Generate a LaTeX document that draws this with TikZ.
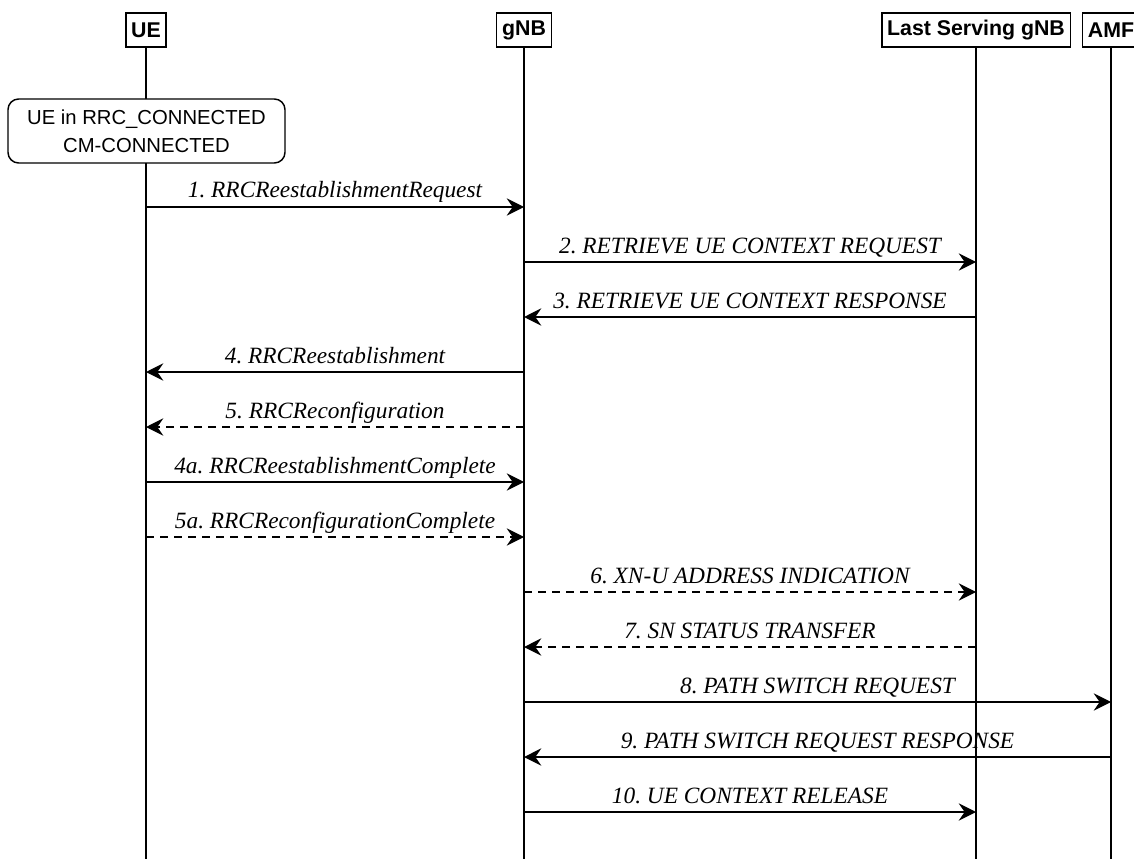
\documentclass[tikz,border=0pt]{standalone}
\usepackage{fontspec}
\setmainfont{Liberation Serif}
\setsansfont{Liberation Sans}
\usetikzlibrary{arrows.meta}
\frenchspacing

\tikzset{
    entity/.style={draw, line width=1.1pt, fill=white, inner xsep=4pt, minimum height=25.5pt,
        font=\fontsize{16pt}{19pt}\selectfont\sffamily\bfseries},
    lifeline/.style={line width=0.9pt},
    msg/.style={line width=1.1pt, -{Stealth[length=13pt,width=13pt,inset=4.5pt]}},
    reply/.style={msg, dash pattern=on 6pt off 4.5pt},
    msglabel/.style={anchor=base, yshift=6.75pt, inner sep=0pt,
        font=\fontsize{17.5pt}{21pt}\selectfont\itshape},
    statebox/.style={draw, line width=1.1pt, fill=white, rounded corners=8pt, align=center,
        minimum width=207.75pt, minimum height=48pt,
        font=\fontsize{15.2pt}{21pt}\selectfont\sffamily}
}

\begin{document}
\begin{tikzpicture}[x=0.75pt, y=-0.75pt]
        \useasboundingbox (0,0) rectangle (1134,859);

        %=== Entities ===
        \node[entity] (ue) at (146,30) {UE};
        \node[entity] (gnb) at (524,30) {gNB};
        \node[entity] (lsg) at (976,30) {Last Serving gNB};
        \node[entity] (amf) at (1111,30) {AMF};
        \coordinate (bottom) at (0,859);

        \foreach \n in {ue,gnb,lsg,amf}
            \draw[lifeline] (\n.south) -- (\n |- bottom);

        \node[statebox] (conn) at (146.5,131) {UE in RRC\_CONNECTED\\CM-CONNECTED};

        %=== Messages ===
        \foreach \i/\y/\a/\b/\kind/\txt in {
            1/207/ue/gnb/msg/{1. RRCReestablishmentRequest},
            2/262/gnb/lsg/msg/{2. RETRIEVE UE CONTEXT REQUEST},
            3/317/lsg/gnb/msg/{3. RETRIEVE UE CONTEXT RESPONSE},
            4/372/gnb/ue/msg/{4. RRCReestablishment},
            5/427/gnb/ue/reply/{5. RRCReconfiguration},
            4a/482/ue/gnb/msg/{4a. RRCReestablishmentComplete},
            5a/537/ue/gnb/reply/{5a. RRCReconfigurationComplete},
            6/592/gnb/lsg/reply/{6. XN-U ADDRESS INDICATION},
            7/647/lsg/gnb/reply/{7. SN STATUS TRANSFER},
            8/702/gnb/amf/msg/{8. PATH SWITCH REQUEST},
            9/757/amf/gnb/msg/{9. PATH SWITCH REQUEST RESPONSE},
            10/812/gnb/lsg/msg/{10. UE CONTEXT RELEASE}}
        {
            \coordinate (m\i) at (0,\y);
            \draw[\kind] (\a |- m\i) -- (\b |- m\i) node[midway, msglabel] {\txt};
        }
\end{tikzpicture}
\end{document}
